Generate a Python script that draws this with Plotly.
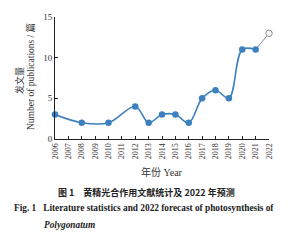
import plotly.graph_objects as go

years = [2006, 2008, 2010, 2012, 2013, 2014, 2015, 2016, 2017, 2018, 2019, 2020, 2021]
counts = [3, 2, 2, 4, 2, 3, 3, 2, 5, 6, 5, 11, 11]
forecast_years = [2021, 2022]
forecast_counts = [11, 13]
tick_years = list(range(2006, 2023))
y_ticks = [0, 5, 10, 15]

blue = "#3d80c0"
serif = "Liberation Serif"
cjk = "Noto Sans CJK SC"

fig = go.Figure()
fig.add_trace(go.Scatter(
    x=forecast_years, y=forecast_counts, mode="lines",
    line=dict(color="#7a93ad", width=1, shape="spline", smoothing=1),
    hoverinfo="skip", showlegend=False, cliponaxis=False))
fig.add_trace(go.Scatter(
    x=years, y=counts, mode="lines+markers",
    line=dict(color=blue, width=1.6, shape="spline", smoothing=1),
    marker=dict(color=blue, size=6.5),
    showlegend=False, cliponaxis=False))
fig.add_trace(go.Scatter(
    x=forecast_years[1:], y=forecast_counts[1:], mode="markers",
    marker=dict(color="white", size=6.5, line=dict(color="#8a8a8a", width=1)),
    showlegend=False, cliponaxis=False))

fig.update_layout(
    width=306, height=240,
    margin=dict(l=55, r=37, t=15, b=101),
    paper_bgcolor="white", plot_bgcolor="white",
    xaxis=dict(
        range=[2006, 2022], tickmode="array", tickvals=tick_years,
        ticktext=[str(y) for y in tick_years], tickangle=-90,
        ticks="inside", ticklen=3, tickcolor="#222", tickwidth=1,
        showline=True, linecolor="#222", linewidth=1, showgrid=False,
        zeroline=False, tickfont=dict(family=serif, size=8, color="#333"),
    ),
    yaxis=dict(
        range=[0, 15], tickmode="array", tickvals=y_ticks,
        ticks="inside", ticklen=3, tickcolor="#222", tickwidth=1,
        showline=True, linecolor="#222", linewidth=1, showgrid=False,
        zeroline=False, tickfont=dict(family=serif, size=9, color="#333"),
    ),
)

annos = [
    dict(x=20, y=80, text="发文量", textangle=-90,
         font=dict(family=cjk, size=9, color="#333")),
    dict(x=30, y=76, text="Number of publications / <span style='font-family:Noto Sans CJK SC'>篇</span>", textangle=-90,
         font=dict(family=serif, size=9.5, color="#333")),
    dict(x=162, y=172, text="<span style='font-family:Noto Sans CJK SC'>年份</span> Year",
         font=dict(family=serif, size=10, color="#333")),
    dict(x=146, y=193, text="<b>图 1　黄精光合作用文献统计及 2022 年预测</b>",
         font=dict(family=cjk, size=9, color="#222")),
    dict(x=144, y=209, text="<b>Fig. 1   Literature statistics and 2022 forecast of photosynthesis of</b>",
         font=dict(family=serif, size=9.3, color="#222")),
    dict(x=42, y=226, text="<b><i>Polygonatum</i></b>", xanchor="left",
         font=dict(family=serif, size=9.3, color="#222")),
]
for a in annos:
    a.setdefault("xanchor", "center")
    fig.add_annotation(xref="paper", yref="paper", showarrow=False,
                       yanchor="middle", **{k: v for k, v in a.items() if k not in ("x", "y")},
                       x=(a["x"] - 55) / (306 - 55 - 37),
                       y=(240 - 101 - a["y"]) / (240 - 15 - 101))

fig.write_html("out.html")
